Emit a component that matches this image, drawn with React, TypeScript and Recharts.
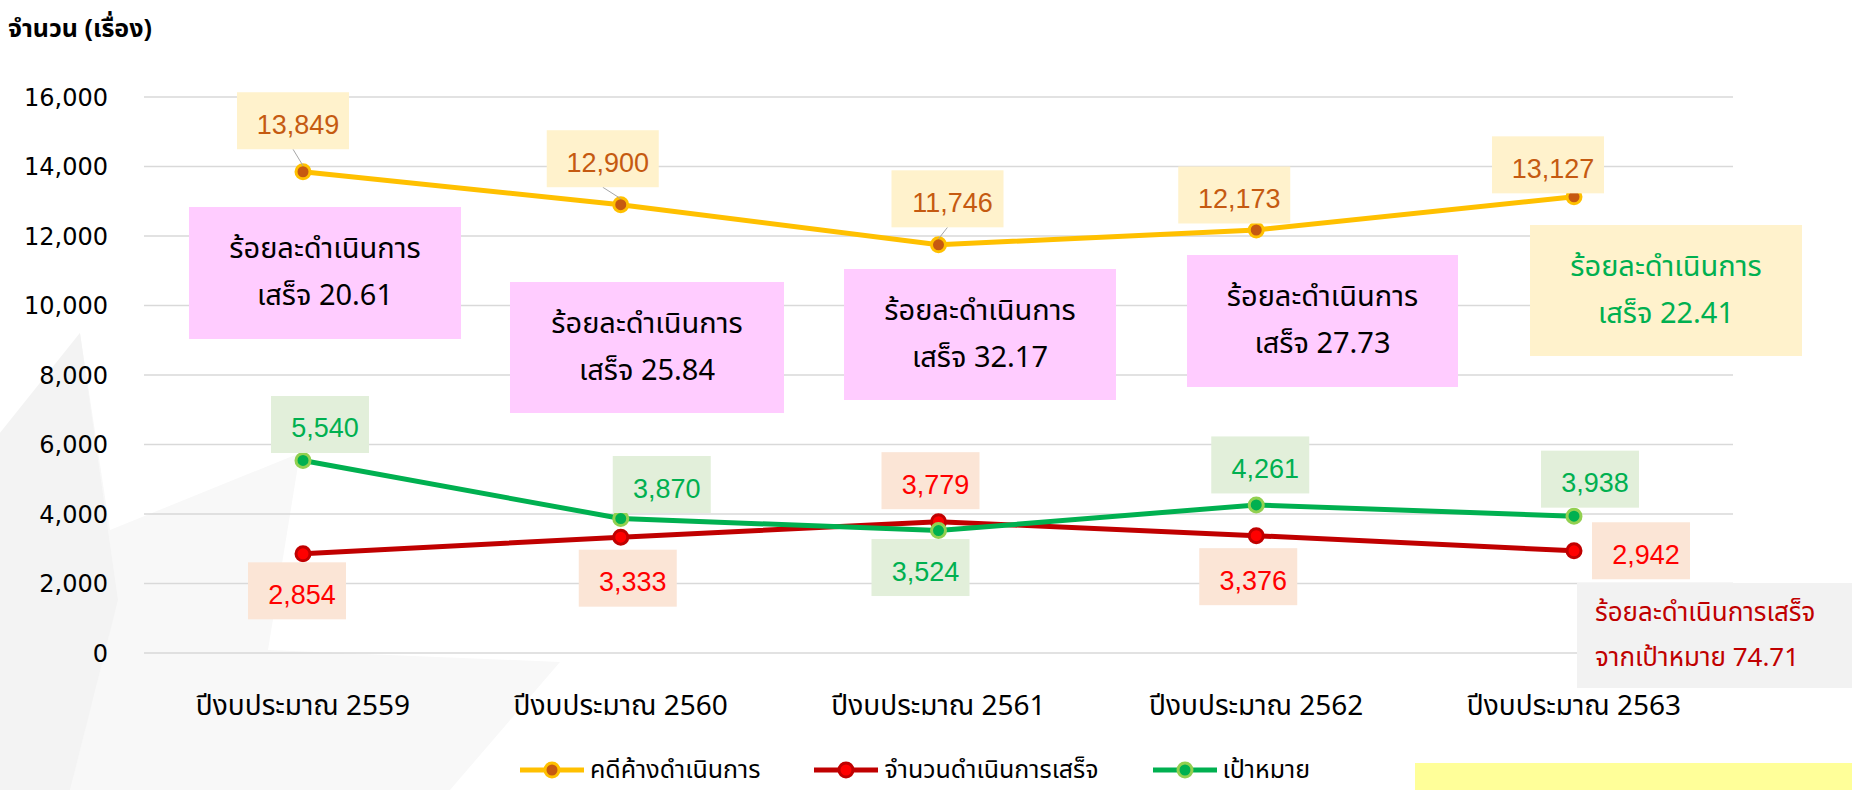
import React from "react";
import { LineChart, Line, XAxis, YAxis, CartesianGrid, LabelList, Legend } from "recharts";

const years = ["ปีงบประมาณ 2559", "ปีงบประมาณ 2560", "ปีงบประมาณ 2561", "ปีงบประมาณ 2562", "ปีงบประมาณ 2563"];
const pending = [13849, 12900, 11746, 12173, 13127];
const completed = [2854, 3333, 3779, 3376, 2942];
const target = [5540, 3870, 3524, 4261, 3938];
const yTicks = [0, 2000, 4000, 6000, 8000, 10000, 12000, 14000, 16000];
const seriesNames = { pending: "คดีค้างดำเนินการ", completed: "จำนวนดำเนินการเสร็จ", target: "เป้าหมาย" };
const rateTitle = "ร้อยละดำเนินการ";
const rates = ["20.61", "25.84", "32.17", "27.73", "22.41"];
const overallTitle = "ร้อยละดำเนินการเสร็จ";
const overallRate = "74.71";

const data = years.map((year, i) => ({
  year,
  pending: pending[i],
  completed: completed[i],
  target: target[i],
}));

const W = 1852;
const H = 790;
const THAI = "Tahoma, 'Noto Sans Thai', 'Leelawadee UI', 'DejaVu Sans', sans-serif";
const NUM = "'Liberation Sans', Arial, sans-serif";

const styles: Record<string, any> = {
  pending: { line: "#FFC000", dot: "#C65911", ring: "#FFC000", box: "#FFF2CC", text: "#C55A11" },
  completed: { line: "#C00000", dot: "#FF0000", ring: "#C00000", box: "#FBE5D6", text: "#FF0000" },
  target: { line: "#00B050", dot: "#00B050", ring: "#92D050", box: "#E2EFDA", text: "#00B050" },
};

// label box centre, relative to its point
const labelShift: Record<string, number[][]> = {
  pending: [[-10, -51], [-18, -46], [9, -46], [-22, -35], [-26, -32]],
  completed: [[-6, 37], [7, 41], [-8, -41], [-8, 41], [67, 0]],
  target: [[17, -36], [41, -34], [-18, 37], [4, -40], [16, -37]],
};

// annotation boxes (left, top, width, height)
const rateBoxes = [
  [189, 207, 272, 132],
  [510, 282, 274, 131],
  [844, 269, 272, 131],
  [1187, 255, 271, 132],
  [1530, 225, 272, 131],
];

function ValueBox(props: any) {
  const { x, y, value, index, series } = props;
  if (x == null || y == null) return null;
  const st = styles[series];
  const [dx, dy] = labelShift[series][index];
  const txt = Number(value).toLocaleString("en-US");
  const w = txt.length * 14 + 28;
  const h = 57;
  const cx = x + dx;
  const cy = y + dy;
  const bottom = cy + h / 2;
  return (
    <g>
      {series === "pending" && y - bottom > 10 && (
        <line x1={cx} y1={bottom} x2={x} y2={y - 6} stroke="#A6A6A6" strokeWidth={1} />
      )}
      <rect x={cx - w / 2} y={cy - h / 2} width={w} height={h} fill={st.box} />
      <text
        x={cx + 5}
        y={cy + 4}
        textAnchor="middle"
        dominantBaseline="central"
        fill={st.text}
        fontSize={27}
        fontFamily={NUM}
      >
        {txt}
      </text>
    </g>
  );
}

function LegendContent(props: any) {
  const items = props.payload || [];
  return (
    <div style={{ display: "flex", justifyContent: "center", gap: 54, paddingRight: 22 }}>
      {items.map((it: any) => {
        const st = styles[it.dataKey];
        return (
          <div key={it.dataKey} style={{ display: "flex", alignItems: "center", gap: 6 }}>
            <svg width={64} height={20}>
              <line x1={0} y1={10} x2={64} y2={10} stroke={st.line} strokeWidth={5} />
              <circle cx={32} cy={10} r={7} fill={st.dot} stroke={st.ring} strokeWidth={3} />
            </svg>
            <span style={{ fontFamily: THAI, fontSize: 25, lineHeight: "30px", color: "#000" }}>{it.value}</span>
          </div>
        );
      })}
    </div>
  );
}

export default function App() {
  const keys = ["pending", "completed", "target"] as const;
  return (
    <div style={{ position: "absolute", left: 0, top: 0, width: W, height: H, background: "#fff", overflow: "hidden" }}>
      <svg width={W} height={H} style={{ position: "absolute", left: 0, top: 0 }}>
        <polygon points="0,433 80,333 110,530 300,453 268,650 560,662 450,790 0,790" fill="#f8f8f8" />
        <polygon points="0,433 80,333 118,600 70,790 0,790" fill="#f3f3f3" />
      </svg>
      <div
        style={{
          position: "absolute",
          left: 8,
          top: 10,
          fontFamily: THAI,
          fontSize: 25,
          fontWeight: "bold",
          color: "#000",
        }}
      >
        จำนวน (เรื่อง)
      </div>
      <div style={{ position: "absolute", left: 0, top: 0 }}>
        <LineChart width={W} height={H} data={data} margin={{ top: 97, right: 119, bottom: 77, left: 0 }}>
          <CartesianGrid vertical={false} stroke="#D9D9D9" strokeWidth={1.5} />
          <XAxis
            dataKey="year"
            height={60}
            padding={{ left: 159, right: 159 }}
            axisLine={false}
            tickLine={false}
            tickMargin={36}
            tick={{ fill: "#000", fontSize: 28, fontFamily: THAI }}
          />
          <YAxis
            width={144}
            domain={[0, 16000]}
            ticks={yTicks}
            axisLine={false}
            tickLine={false}
            tickMargin={30}
            tickFormatter={(v: number) => v.toLocaleString("en-US")}
            tick={{ fill: "#000", fontSize: 24, fontFamily: "'DejaVu Sans', Verdana, sans-serif" }}
          />
          {keys.map((k) => (
            <Line
              key={k}
              dataKey={k}
              name={seriesNames[k]}
              stroke={styles[k].line}
              strokeWidth={5}
              isAnimationActive={false}
              dot={{ r: 7, fill: styles[k].dot, stroke: styles[k].ring, strokeWidth: 3 }}
            >
              <LabelList dataKey={k} content={(p: any) => <ValueBox {...p} series={k} />} />
            </Line>
          ))}
          <Legend
            verticalAlign="middle"
            layout="horizontal"
            content={<LegendContent />}
            wrapperStyle={{ top: 755, left: 0, width: W }}
          />
        </LineChart>
      </div>
      {rates.map((r, i) => {
        const [l, t, w, h] = rateBoxes[i];
        const last = i === rates.length - 1;
        return (
          <div
            key={r}
            style={{
              position: "absolute",
              left: l,
              top: t,
              width: w,
              height: h,
              background: last ? "#FFF2CC" : "#FFCCFF",
              color: last ? "#00B050" : "#000",
              fontFamily: THAI,
              fontSize: 29,
              lineHeight: "47px",
              display: "flex",
              flexDirection: "column",
              justifyContent: "center",
              alignItems: "center",
            }}
          >
            <div>{rateTitle}</div>
            <div>เสร็จ {r}</div>
          </div>
        );
      })}
      <div
        style={{
          position: "absolute",
          left: 1577,
          top: 583,
          width: W - 1577,
          height: 105,
          background: "#F2F2F2",
          color: "#C00000",
          fontFamily: THAI,
          fontSize: 26,
          lineHeight: "45px",
          paddingLeft: 18,
          boxSizing: "border-box",
          display: "flex",
          flexDirection: "column",
          justifyContent: "center",
        }}
      >
        <div>{overallTitle}</div>
        <div>จากเป้าหมาย {overallRate}</div>
      </div>
      <div style={{ position: "absolute", left: 1415, top: 763, width: W - 1415, height: 27, background: "#FFFF99" }} />
    </div>
  );
}
